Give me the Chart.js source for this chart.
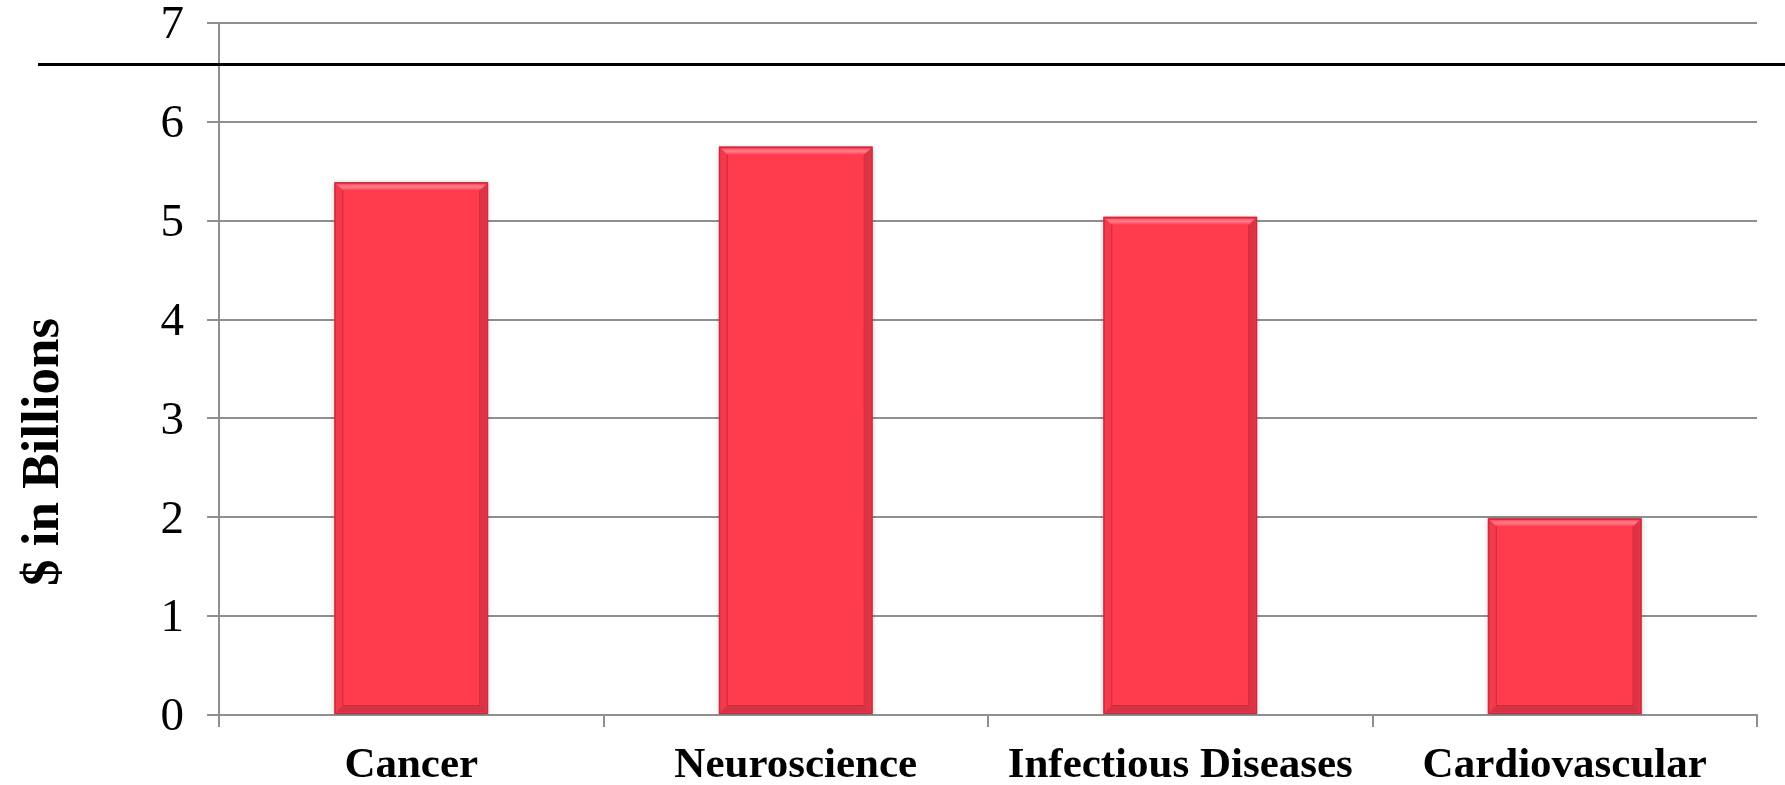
<!DOCTYPE html>
<html>
<head>
<meta charset="utf-8">
<script src="https://cdn.jsdelivr.net/npm/chart.js@4.4.0/dist/chart.umd.min.js"></script>
<style>
  html, body { margin: 0; padding: 0; background: #ffffff; overflow: hidden; }
  #wrap { width: 1785px; height: 785px; }
</style>
</head>
<body>
<div id="wrap"><canvas id="c" width="1785" height="785"></canvas></div>
<script>
// R&D spending by therapeutic area ($ billions)
const categories = ['Cancer', 'Neuroscience', 'Infectious Diseases', 'Cardiovascular'];
const spending = [5.39, 5.75, 5.04, 1.99];
const yTickValues = [0, 1, 2, 3, 4, 5, 6, 7];
const yTitleText = '$ in Billions';

const SERIF = "'Liberation Serif', 'Times New Roman', serif";
const GRID = '#8f8f8f';
const BAR_FILL = '#ff3b4e';

// Soft drop shadow under the bars
const barShadow = {
  id: 'barShadow',
  beforeDatasetsDraw(chart) {
    const ctx = chart.ctx;
    ctx.save();
    ctx.shadowColor = 'rgba(0,0,0,0.28)';
    ctx.shadowBlur = 5;
    ctx.shadowOffsetX = 0;
    ctx.shadowOffsetY = 1;
  },
  afterDatasetsDraw(chart) {
    chart.ctx.restore();
  }
};

// Bevelled frame drawn inside each bar, from the bar element geometry
const barBevel = {
  id: 'barBevel',
  afterDatasetsDraw(chart) {
    const ctx = chart.ctx;
    const meta = chart.getDatasetMeta(0);
    meta.data.forEach(bar => {
      const l = bar.x - bar.width / 2;
      const r = bar.x + bar.width / 2;
      const t = bar.y;
      const b = bar.base;
      const o = 2;   // outer edge
      const w = 6;   // bevel width
      ctx.save();
      // top highlight
      const g = ctx.createLinearGradient(0, t + o, 0, t + o + w);
      g.addColorStop(0, '#ff5a6b');
      g.addColorStop(0.45, '#ff7d8b');
      g.addColorStop(1, '#ff4357');
      ctx.fillStyle = g;
      ctx.beginPath();
      ctx.moveTo(l + o, t + o); ctx.lineTo(r - o, t + o);
      ctx.lineTo(r - o - w, t + o + w); ctx.lineTo(l + o + w, t + o + w);
      ctx.closePath(); ctx.fill();
      // left side
      ctx.fillStyle = '#f33a4d';
      ctx.beginPath();
      ctx.moveTo(l + o, t + o); ctx.lineTo(l + o + w, t + o + w);
      ctx.lineTo(l + o + w, b - o - w); ctx.lineTo(l + o, b - o);
      ctx.closePath(); ctx.fill();
      // right side
      ctx.fillStyle = '#dd3346';
      ctx.beginPath();
      ctx.moveTo(r - o, t + o); ctx.lineTo(r - o - w, t + o + w);
      ctx.lineTo(r - o - w, b - o - w); ctx.lineTo(r - o, b - o);
      ctx.closePath(); ctx.fill();
      // bottom
      ctx.fillStyle = '#d63144';
      ctx.beginPath();
      ctx.moveTo(l + o, b - o); ctx.lineTo(l + o + w, b - o - w);
      ctx.lineTo(r - o - w, b - o - w); ctx.lineTo(r - o, b - o);
      ctx.closePath(); ctx.fill();
      // inner crease lines
      ctx.strokeStyle = 'rgba(170,30,45,0.55)';
      ctx.lineWidth = 1;
      ctx.beginPath();
      ctx.moveTo(l + o + w + 0.5, t + o + w);
      ctx.lineTo(l + o + w + 0.5, b - o - w - 0.5);
      ctx.lineTo(r - o - w - 0.5, b - o - w - 0.5);
      ctx.lineTo(r - o - w - 0.5, t + o + w);
      ctx.stroke();
      // outer rim
      ctx.strokeStyle = '#c92c3e';
      ctx.lineWidth = 1.5;
      ctx.strokeRect(l + 0.75, t + 0.75, bar.width - 1.5, b - t - 1.5);
      ctx.restore();
    });
  }
};

// Vertical axis title and the heavy rule across the top of the slide
const decorations = {
  id: 'decorations',
  afterDraw(chart) {
    const ctx = chart.ctx;
    ctx.save();
    ctx.strokeStyle = '#000000';
    ctx.lineWidth = 3;
    ctx.beginPath();
    ctx.moveTo(38, 64.5);
    ctx.lineTo(chart.width, 64.5);
    ctx.stroke();

    ctx.translate(44, 452);
    ctx.rotate(-Math.PI / 2);
    ctx.fillStyle = '#000000';
    ctx.font = 'bold 53px ' + SERIF;
    ctx.textAlign = 'center';
    ctx.textBaseline = 'middle';
    ctx.fillText(yTitleText, 0, 0);
    ctx.restore();
  }
};

new Chart(document.getElementById('c'), {
  type: 'bar',
  data: {
    labels: categories,
    datasets: [{
      data: spending,
      backgroundColor: BAR_FILL,
      borderWidth: 0,
      categoryPercentage: 1.0,
      barPercentage: 0.40
    }]
  },
  options: {
    responsive: false,
    animation: false,
    devicePixelRatio: 1,
    layout: { padding: { top: 23, right: 28, bottom: 0, left: 0 } },
    plugins: {
      legend: { display: false },
      tooltip: { enabled: false },
      title: { display: false }
    },
    scales: {
      x: {
        offset: true,
        grid: {
          offset: true,
          drawOnChartArea: false,
          drawTicks: true,
          tickLength: 12,
          color: GRID,
          lineWidth: 2
        },
        border: { display: true, color: GRID, width: 2 },
        ticks: {
          color: '#000000',
          padding: 13,
          maxRotation: 0,
          autoSkip: false,
          font: { family: SERIF, size: 43, weight: 'bold' }
        },
        afterFit(scale) {
          scale.height = 70;
          scale.paddingLeft = 0;
          scale.paddingRight = 0;
        }
      },
      y: {
        min: yTickValues[0],
        max: yTickValues[yTickValues.length - 1],
        afterBuildTicks(scale) {
          scale.ticks = yTickValues.map(v => ({ value: v }));
        },
        grid: {
          color: GRID,
          lineWidth: 2,
          drawTicks: true,
          tickLength: 12
        },
        border: { display: true, color: GRID, width: 2 },
        ticks: {
          color: '#000000',
          padding: 23,
          labelOffset: 3,
          font: { family: SERIF, size: 47 }
        },
        afterFit(scale) {
          scale.width = 219;
          scale.paddingTop = 0;
          scale.paddingBottom = 0;
        }
      }
    }
  },
  plugins: [barShadow, barBevel, decorations]
});
</script>
</body>
</html>
